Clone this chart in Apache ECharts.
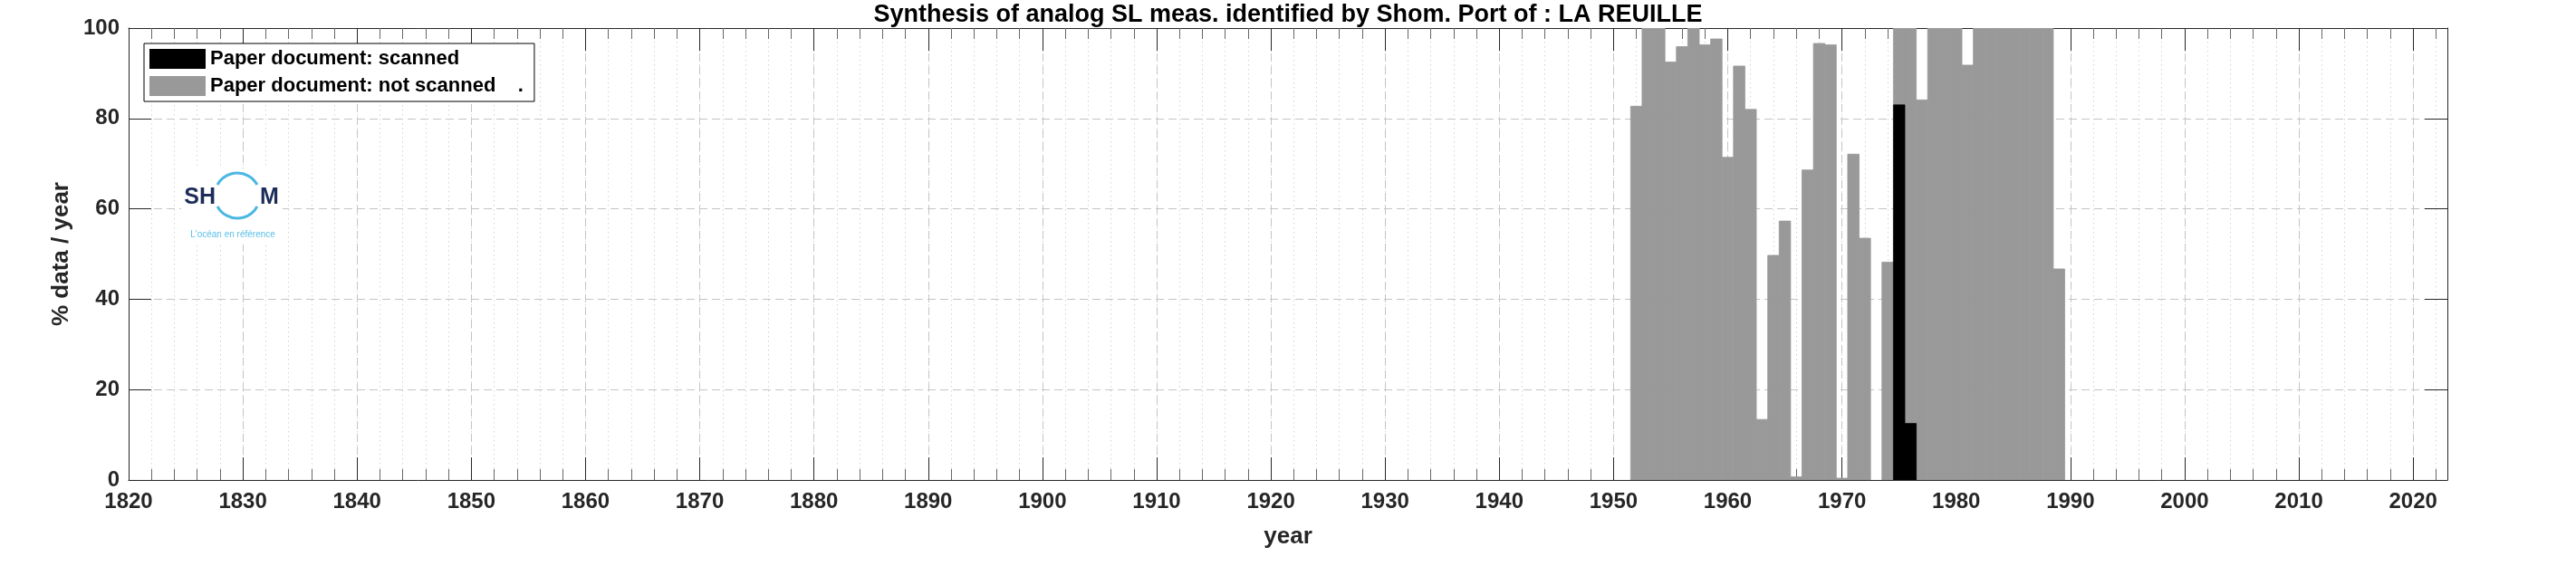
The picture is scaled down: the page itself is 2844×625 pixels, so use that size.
<!DOCTYPE html>
<html>
<head>
<meta charset="utf-8">
<script src="https://cdn.jsdelivr.net/npm/echarts@6/dist/echarts.min.js"></script>
<style>
html,body{margin:0;padding:0;background:#fff;}
#chart{width:2844px;height:625px;}
</style>
</head>
<body>
<div id="chart"></div>
<script>
// ---- data ----
const years = [1952,1953,1954,1955,1956,1957,1958,1959,1960,1961,1962,1963,1964,1965,1966,1967,1968,1969,1970,1971,1972,1973,1974,1975,1976,1977,1978,1979,1980,1981,1982,1983,1984,1985,1986,1987,1988,1989];
const scanned = [0,0,0,0,0,0,0,0,0,0,0,0,0,0,0,0,0,0,0,0,0,0,0,83,12.5,0,0,0,0,0,0,0,0,0,0,0,0,0];
const notScanned = [82.7,100,100,92.5,95.9,100,96.3,97.6,71.4,91.6,82.0,13.4,49.7,57.3,0.7,68.6,96.6,96.3,0.4,72.1,53.5,0,48.2,17,87.5,84.1,100,100,100,91.8,100,100,100,100,100,100,100,46.7];
const xMin = 1820, xMax = 2023, xMajor = 10, xMinor = 2;
const yMin = 0, yMax = 100, yStep = 20;
const seriesNames = ['Paper document: scanned', 'Paper document: not scanned    .'];
const titleText = 'Synthesis of analog SL meas. identified by Shom. Port of : LA REUILLE';

const FONT = "'Liberation Sans', Arial, Helvetica, sans-serif";
const TXT = '#262626';

const chart = echarts.init(document.getElementById('chart'), null, {renderer: 'canvas'});

function xAxisDef(pos, interval, major, labels) {
  return {
    type: 'value', position: pos, min: xMin, max: xMax, interval: interval,
    axisLine: {show: major, onZero: false, lineStyle: {color: TXT, width: 1}},
    axisTick: {show: true, inside: true, length: major ? 25 : 12,
      lineStyle: {color: major ? TXT : '#666', width: 1}},
    axisLabel: labels ? {
      show: true, margin: 12, fontSize: 24, fontWeight: 'bold', color: TXT, fontFamily: FONT,
      formatter: v => (v % xMajor === 0 ? String(v) : '')
    } : {show: false},
    splitLine: (pos === 'bottom') ? {show: true, lineStyle: major ?
      {color: '#c4c4c4', type: [9, 5], width: 1} :
      {color: '#d4d4d4', type: [1.5, 3.5], width: 1}} : {show: false},
    name: labels ? 'year' : '', nameLocation: 'middle', nameGap: 50,
    nameTextStyle: {fontSize: 26, fontWeight: 'bold', color: TXT, fontFamily: FONT}
  };
}

function yAxisDef(pos, labels) {
  return {
    type: 'value', position: pos, min: yMin, max: yMax, interval: yStep,
    axisLine: {show: true, onZero: false, lineStyle: {color: TXT, width: 1}},
    axisTick: {show: true, inside: true, length: 25, lineStyle: {color: TXT, width: 1}},
    axisLabel: labels ? {show: true, margin: 10, fontSize: 24, fontWeight: 'bold', color: TXT, fontFamily: FONT} : {show: false},
    splitLine: labels ? {show: true, lineStyle: {color: '#c4c4c4', type: [9, 5], width: 1}} : {show: false},
    name: labels ? '% data / year' : '', nameLocation: 'middle', nameGap: 53,
    nameTextStyle: {fontSize: 26, fontWeight: 'bold', color: TXT, fontFamily: FONT}
  };
}

// draws one year-wide column from base to base + value through the axes' scales
function renderColumn(params, api) {
  const yr = api.value(0), base = api.value(1), v = api.value(2);
  if (!v) return null;
  const p0 = api.coord([yr - 0.5, base]);
  const p1 = api.coord([yr + 0.5, base + v]);
  const st = api.style();
  st.stroke = st.fill;
  st.lineWidth = 0.8;
  return {
    type: 'rect',
    shape: {x: p0[0], y: p1[1], width: p1[0] - p0[0], height: p0[1] - p1[1]},
    style: st
  };
}

const option = {
  animation: false,
  backgroundColor: '#fff',
  title: {
    text: titleText, left: 'center', top: -2,
    textStyle: {fontSize: 27, fontWeight: 'bold', color: '#000', fontFamily: FONT}
  },
  grid: {left: 142, right: 142, top: 31, bottom: 95, containLabel: false},
  legend: {
    orient: 'vertical', left: 159, top: 48,
    data: seriesNames.map(n => ({name: n, icon: 'rect'})),
    itemWidth: 62, itemHeight: 22, itemGap: 8,
    padding: [6, 12, 6, 6],
    borderColor: '#000', borderWidth: 1, backgroundColor: '#fff',
    textStyle: {fontSize: 22, fontWeight: 'bold', color: '#000', fontFamily: FONT},
    selectedMode: false
  },
  xAxis: [
    xAxisDef('bottom', xMinor, false, false),
    xAxisDef('bottom', xMajor, true, true),
    xAxisDef('top', xMinor, false, false),
    xAxisDef('top', xMajor, true, false)
  ],
  yAxis: [yAxisDef('left', true), yAxisDef('right', false)],
  series: [
    {
      name: seriesNames[0], type: 'custom', xAxisIndex: 1, yAxisIndex: 0,
      renderItem: renderColumn, encode: {x: 0, y: 2}, clip: true,
      itemStyle: {color: '#000'}, z: 3,
      data: years.map((y, i) => [y, 0, scanned[i]])
    },
    {
      name: seriesNames[1], type: 'custom', xAxisIndex: 1, yAxisIndex: 0,
      renderItem: renderColumn, encode: {x: 0, y: 2}, clip: true,
      itemStyle: {color: '#999999'}, z: 2,
      data: years.map((y, i) => [y, scanned[i], notScanned[i]])
    }
  ],
  graphic: [
    {type: 'rect', shape: {x: 200, y: 186, width: 112, height: 84}, style: {fill: '#fff'}, z: 5, silent: true},
    {type: 'text', x: 238, y: 218, z: 6, style: {text: 'SH', fill: '#1c2d5a', font: "bold 25px " + FONT, align: 'right', verticalAlign: 'middle'}},
    {type: 'text', x: 287, y: 218, z: 6, style: {text: 'M', fill: '#1c2d5a', font: "bold 25px " + FONT, align: 'left', verticalAlign: 'middle'}},
    {type: 'arc', z: 6, shape: {cx: 262, cy: 216, r: 25, startAngle: Math.PI + 0.5, endAngle: 2 * Math.PI - 0.5, clockwise: true},
      style: {stroke: '#4cb8e2', lineWidth: 3, fill: null}},
    {type: 'arc', z: 6, shape: {cx: 262, cy: 216, r: 25, startAngle: 0.5, endAngle: Math.PI - 0.5, clockwise: true},
      style: {stroke: '#4cb8e2', lineWidth: 3, fill: null}},
    {type: 'text', x: 257, y: 259, z: 6, style: {text: "L'océan en référence", fill: '#5bbfe6', font: "10px " + FONT, align: 'center', verticalAlign: 'middle'}}
  ]
};
chart.setOption(option);
</script>
</body>
</html>
